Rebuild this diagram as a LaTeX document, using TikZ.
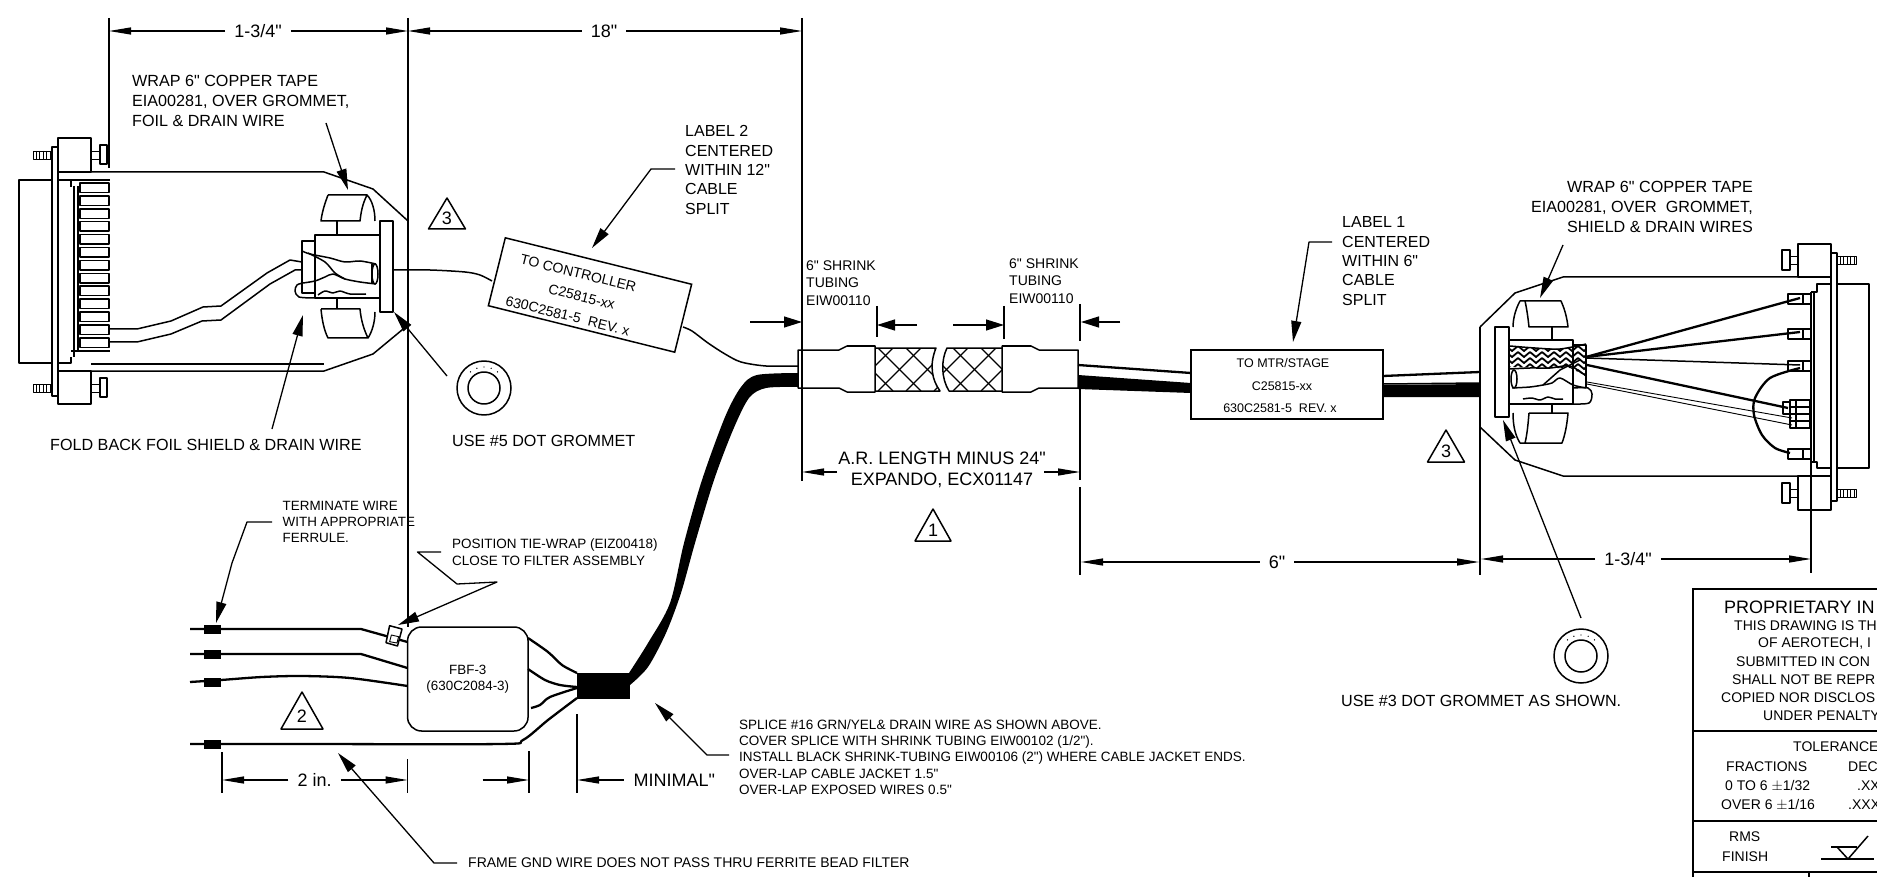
\documentclass[tikz,border=0pt]{standalone}
\usepackage{fontspec}
\setmainfont{Liberation Sans}[Ligatures=TeXOff]
\usetikzlibrary{arrows.meta}
\tikzset{
	wire/.style={line width=1.5pt, line join=round},
	fine/.style={line width=.9pt, line join=round},
	cable/.style={line width=2.3pt, line join=round},
	dima/.style={line width=1.2pt, -{Triangle[length=22pt,width=7pt]}},
	leada/.style={line width=1.3pt, line join=round, -{Triangle[length=21pt,width=10pt]}},
	smalla/.style={line width=1.3pt, -{Triangle[length=18pt,width=11pt]}},
	txt/.style={inner sep=0pt, anchor=west, align=left},
	fdraft/.style={font=\fontsize{13.4}{16.2}\selectfont},
	fmid/.style={font=\fontsize{14}{17.7}\selectfont},
	fnote/.style={font=\fontsize{16.15}{19.6}\selectfont},
	fdim/.style={font=\fontsize{18}{21}\selectfont},
	dimtext/.style={inner xsep=9pt, inner ysep=0pt, fdim},
}
\begin{document}
\begin{tikzpicture}[x=1pt, y=-1pt]
	\useasboundingbox (0,0) rectangle (1877,877);
	\clip (0,0) rectangle (1877,877);

	% witness lines
	\coordinate (wa) at (109,31);
	\coordinate (wb) at (408,31);
	\coordinate (wc) at (802,31);
	\draw[wire] (109,18) -- (109,168);
	\draw[wire] (408,18) -- (408,627);
	\draw[wire] (802,18) -- (802,481);
	\draw[wire] (1080,388) -- (1080,480);
	\draw[wire] (1080,487) -- (1080,575);
	\draw[wire] (1480,327) -- (1480,575);
	\draw[wire] (1811,292) -- (1811,573);

	% top dimensions
	\node[dimtext] (topa) at (258,31) {1-3/4"};
	\draw[dima] (topa) -- (wa);
	\draw[dima] (topa) -- (wb);
	\node[dimtext] (topb) at (604,31) {18"};
	\draw[dima] (topb) -- (wb);
	\draw[dima] (topb) -- (wc);

	% left connector
	\draw[wire] (58,138) rectangle (91,172);
	\draw[wire] (58,371) rectangle (91,404);
	\draw[wire] (58,172) -- (58,371);
	\draw[wire] (52,147) rectangle (58,396);
	\draw[wire] (19,180) rectangle (52,363);
	\draw[wire] (58,180) -- (110,180);
	\draw[wire] (58,363) -- (71,363) -- (71,357);
	\draw[wire] (71,181) -- (71,187);
	\draw[wire] (74,186) -- (74,357);
	\draw[wire] (78,186) -- (78,352);
	\draw[wire] (71,351) -- (110,351);
	\foreach[evaluate=\i as \y using 183+12.9*\i] \i in {0,...,12}{
		\draw[wire] (80,\y) rectangle (109,\y+9.5);
	}
	\foreach \y in {151,384}{
		\draw[fine] (33,\y) rectangle (52,\y+8);
		\foreach \x in {36,39.5,...,50}{
			\draw[fine] (\x,\y) -- (\x,\y+8);
		}
		\draw[fine] (91,\y) rectangle (100,\y+8);
		\draw[wire] (100,\y-6) rectangle (107,\y+13);
	}

	% left hood
	\draw[wire] (91,172) -- (324,172) -- (373,189) -- (408,221);
	\draw[wire] (91,371) -- (324,371) -- (373,354) -- (408,325);
	\draw[wire] (91,364) -- (324,364);

	% left grommet and wrap
	\draw[wire] (380,221) rectangle (393,312);
	\draw[wire] (328,195) -- (367,195) .. controls (372,200) and (375,210) .. (375,221) (367,195) .. controls (362,205) and (361,213) .. (360,221) -- (321,221) .. controls (322,212) and (325,203) .. (328,195);
	\draw[wire] (321,309) -- (360,309) .. controls (361,320) and (364,330) .. (368,338) -- (328,338) .. controls (324,330) and (322,320) .. (321,309);
	\draw[wire] (368,338) .. controls (372,332) and (375,322) .. (375,312);
	\draw[wire] (337,221) -- (337,235) (337,298) -- (337,309);
	\draw[wire] (380,235) -- (315,235) -- (315,298) -- (380,298);
	\draw[wire] (315,241) -- (302,241) -- (302,293) -- (315,293);

	% left foil and drain
	\draw[wire] plot[smooth] coordinates {(302,251) (310,254) (330,258) (345,262) (360,261) (376,264)};
	\draw[wire] plot[smooth] coordinates {(303,283) (315,281) (325,277) (333,274) (345,279) (360,282) (376,284)};
	\draw[wire] plot[smooth] coordinates {(308,253) (325,262) (335,273) (345,279)};
	\draw[wire] (375,274) ellipse[x radius=3, y radius=10];
	\draw[wire] (372,264) -- (372,284);
	\draw[wire] plot[smooth] coordinates {(318,295) (325,291) (333,293) (340,291) (350,294) (366,294)};
	\draw[wire] plot[smooth] coordinates {(303,283) (297,285) (295,291) (299,297) (315,298)};

	% left wires
	\draw[wire] (302,262) -- (290,260) -- (267,273) -- (221,306) -- (203,307) -- (171,321) -- (137,329) -- (110,329);
	\draw[wire] (302,270) -- (295,270) -- (270,284) -- (221,320) -- (202,321) -- (171,334) -- (137,342) -- (110,342);

	% left leaders
	\node[txt, fnote] (wrapleft) at (132,101) {WRAP 6" COPPER TAPE\\EIA00281, OVER GROMMET,\\FOIL \& DRAIN WIRE};
	\coordinate (wrapleftend) at (326,123);
	\coordinate (wraplefttip) at (348,190);
	\draw[leada] (wrapleftend) -- (wraplefttip);
	\node[txt, fnote] (foldnote) at (50,445) {FOLD BACK FOIL SHIELD \& DRAIN WIRE};
	\coordinate (foldend) at (272,429);
	\coordinate (foldtip) at (303,315);
	\draw[leada] (foldend) -- (foldtip);
	\coordinate (gromaend) at (447,376);
	\coordinate (gromatip) at (394,312);
	\draw[leada] (gromaend) -- (gromatip);

	% left grommet front
	\draw[wire] (484,388) circle[radius=27];
	\draw[wire] (484,388) circle[radius=16];
	\foreach \a in {-130,-110,...,-50}{
		\fill (484,388) ++(\a:21) circle[radius=.7];
	}
	\node[txt, fnote] (grommeta) at (452,441) {USE \#5 DOT GROMMET};

	% note flags
	\foreach \x/\y/\w/\h/\n/\t in {447/198/18.5/31/flaga/3, 933/509/18/32/flagb/1, 302/692/21/37/flagc/2, 1446/430/18.5/32/flagd/3}{
		\draw[wire] (\x,\y) -- (\x+\w,\y+\h) -- (\x-\w,\y+\h) -- cycle;
		\node[fdim, inner sep=0pt] (\n) at (\x,\y+.66*\h) {\t};
	}

	% label 2
	\draw[wire] plot[smooth] coordinates {(393,270) (430,270) (465,272) (480,275) (492,281)};
	\draw[wire] plot[smooth] coordinates {(683,327) (692,331) (708,343) (725,354) (741,362) (766,366) (798,366)};
	\node[draw, line width=1.5pt, fill=white, minimum width=192pt, minimum height=70pt, rotate=-14] (labeltwo) at (590,295) {};
	\node[font=\fontsize{14}{22}\selectfont, inner sep=0pt, align=center, rotate=-14] (labeltwotext) at (573,294.5) {TO CONTROLLER\\\hspace*{18pt}C25815-xx\\630C2581-5\ \ REV. x};
	\node[txt, font=\fontsize{16}{19.4}\selectfont] (labeltwonote) at (685,170) {LABEL 2\\CENTERED\\WITHIN 12"\\CABLE\\SPLIT};
	\coordinate (ltwoend) at (675,169);
	\coordinate (ltwotip) at (592,248);
	\draw[leada] (ltwoend) -- (651,169) -- (ltwotip);

	% black cable
	\fill plot[smooth] coordinates {(798,373) (757,375) (741,387) (725,417) (702,480) (684,543) (670,603) (648,643) (629,673)} -- plot[smooth] coordinates {(630,685) (648,667) (666,633) (681,593) (695,543) (714,480) (733,430) (749,398) (766,388) (798,387)} -- cycle;

	% expando mesh
	\begin{scope}
		\clip (875,348) -- (936,348) .. controls (929,365) and (932,380) .. (940,391) -- (875,391) -- cycle;
		\foreach \k in {850,878,...,950}{
			\draw[line width=1.2pt] (\k,348) -- (\k+43,391);
			\draw[line width=1.2pt] (\k+43,348) -- (\k,391);
		}
	\end{scope}
	\begin{scope}
		\clip (947,348) .. controls (941,360) and (941,378) .. (949,391) -- (1002,391) -- (1002,348) -- cycle;
		\foreach \k in {925,953,...,1010}{
			\draw[line width=1.2pt] (\k,348) -- (\k+43,391);
			\draw[line width=1.2pt] (\k+43,348) -- (\k,391);
		}
	\end{scope}
	\draw[wire] (875,348) -- (936,348) .. controls (929,365) and (932,380) .. (940,391) -- (875,391);
	\draw[wire] (1002,348) -- (947,348) .. controls (941,360) and (941,378) .. (949,391) -- (1002,391);

	% shrink tubing
	\draw[wire] (798,350) -- (839,350) -- (847,346) -- (875,346) -- (875,392) -- (847,392) -- (839,388) -- (798,388) -- cycle;
	\draw[wire] (1002,346) -- (1031,346) -- (1039,350) -- (1078,350) -- (1078,388) -- (1039,388) -- (1031,392) -- (1002,392) -- cycle;
	\node[txt, font=\fontsize{14}{17.4}\selectfont] (shrinka) at (806,283) {6" SHRINK\\TUBING\\EIW00110};
	\node[txt, font=\fontsize{14}{17.4}\selectfont] (shrinkb) at (1009,281) {6" SHRINK\\TUBING\\EIW00110};
	\draw[wire] (877,306) -- (877,337);
	\draw[wire] (1004,306) -- (1004,339);
	\draw[wire] (1080,304) -- (1080,341);
	\coordinate (shrinkwa) at (802,322);
	\coordinate (shrinkwb) at (877,325);
	\coordinate (shrinkwc) at (1004,325);
	\coordinate (shrinkwd) at (1081,322);
	\draw[smalla] (750,322) -- (shrinkwa);
	\draw[smalla] (917,325) -- (shrinkwb);
	\draw[smalla] (953,325) -- (shrinkwc);
	\draw[smalla] (1120,322) -- (shrinkwd);

	% expando dimension
	\node[fdim, inner sep=0pt, align=center] (arlength) at (942,470) {A.R. LENGTH MINUS 24"\\EXPANDO, ECX01147};
	\coordinate (arwa) at (802,472);
	\coordinate (arwb) at (1080,472);
	\draw[dima] (837,472) -- (arwa);
	\draw[dima] (1044,472) -- (arwb);

	% label 1
	\draw[cable] (1078,365) -- (1191,373);
	\draw[cable] (1383,376) -- (1480,372);
	\draw[wire] (1383,384) -- (1480,383);
	\fill (1078,375) -- (1191,383) -- (1191,393) -- (1078,389) -- cycle;
	\fill (1383,385) -- (1480,384) -- (1480,397) -- (1383,397) -- cycle;
	\node[draw, line width=1.5pt, fill=white, minimum width=192pt, minimum height=69pt] (labelone) at (1287,384.5) {};
	\node[font=\fontsize{12.5}{15}\selectfont, inner sep=0pt] (labelonea) at (1283,363) {TO MTR/STAGE};
	\node[font=\fontsize{12.5}{15}\selectfont, inner sep=0pt] (labeloneb) at (1282,386) {C25815-xx};
	\node[font=\fontsize{12.5}{15}\selectfont, inner sep=0pt] (labelonec) at (1280,408) {630C2581-5\ \ REV. x};
	\node[txt, font=\fontsize{16}{19.4}\selectfont] (labelonenote) at (1342,261) {LABEL 1\\CENTERED\\WITHIN 6"\\CABLE\\SPLIT};
	\coordinate (loneend) at (1332,242);
	\coordinate (lonetip) at (1293,342);
	\draw[leada] (loneend) -- (1309,242) -- (lonetip);

	% bottom dimensions right
	\node[dimtext] (dimsix) at (1277,562) {6"};
	\coordinate (sixa) at (1081,562);
	\coordinate (sixb) at (1479,562);
	\draw[dima] (dimsix) -- (sixa);
	\draw[dima] (dimsix) -- (sixb);
	\node[dimtext] (dimright) at (1628,559) {1-3/4"};
	\coordinate (rightw) at (1481,559);
	\coordinate (rightx) at (1811,559);
	\draw[dima] (dimright) -- (rightw);
	\draw[dima] (dimright) -- (rightx);

	% right hood
	\draw[wire] (1798,277) -- (1563,277) -- (1515,293) -- (1480,327);
	\draw[wire] (1798,476) -- (1563,476) -- (1515,460) -- (1480,427);

	% right grommet and wrap
	\draw[wire] (1495,327) rectangle (1509,417);
	\draw[wire] (1525,301) -- (1561,301) .. controls (1565,310) and (1567,318) .. (1568,327) -- (1529,327) .. controls (1528,318) and (1527,310) .. (1525,301);
	\draw[wire] (1529,413) -- (1568,413) .. controls (1567,425) and (1565,435) .. (1562,443) -- (1525,443) .. controls (1527,435) and (1528,425) .. (1529,413);
	\draw[wire] (1525,301) -- (1520,301) .. controls (1515,310) and (1513,320) .. (1513,327);
	\draw[wire] (1525,443) -- (1520,443) .. controls (1515,435) and (1513,425) .. (1513,413);
	\draw[wire] (1552,327) -- (1552,340) (1552,404) -- (1552,413);
	\draw[wire] (1509,340) -- (1573,340) -- (1573,404) -- (1509,404);
	\draw[wire] (1573,345) -- (1586,345) -- (1586,388);

	% right braid
	\begin{scope}
		\clip (1510,346) -- (1535,348) -- (1560,349) -- (1586,344) -- (1586,376) -- (1570,368) -- (1545,368) -- (1510,367) -- cycle;
		\foreach \y in {340,346,...,382}{
			\foreach \x in {1506,1518,...,1586}{
				\draw[line width=1.8pt] (\x,\y) -- (\x+6,\y+5) -- (\x+12,\y);
			}
		}
	\end{scope}
	\draw[wire] plot[smooth] coordinates {(1510,346) (1535,348) (1560,349) (1586,344)};
	\draw[wire] plot[smooth] coordinates {(1510,369) (1530,368) (1550,368) (1570,366) (1586,376)};
	\draw[wire] plot[smooth] coordinates {(1512,388) (1530,387) (1543,385) (1552,383) (1560,378) (1573,385) (1586,388)};
	\draw[wire] (1543,385) -- (1560,370) -- (1580,360);
	\draw[wire] (1514,379) ellipse[x radius=3, y radius=9];
	\draw[wire] plot[smooth] coordinates {(1523,399) (1532,398) (1540,400) (1548,397) (1555,399) (1563,399)};
	\draw[wire] plot[smooth] coordinates {(1573,388) (1588,388) (1592,394) (1589,403) (1573,404)};

	% right pin wires
	\draw[cable] (1586,357) -- (1800,298);
	\draw[cable] (1586,357) -- (1800,332);
	\draw[wire] (1586,358) -- (1800,365);
	\draw[cable] (1587,365) -- (1788,408);
	\draw[fine] (1587,382) -- (1792,418);
	\draw[fine] (1587,384) -- (1792,425);
	\draw[cable] plot[smooth] coordinates {(1800,368) (1770,378) (1755,398) (1754,415) (1762,435) (1775,448) (1790,453)};

	% right pins
	\foreach \y in {294,329,361,449}{
		\draw[wire] (1788,\y) rectangle (1803,\y+10);
		\draw[wire] (1803,\y) -- (1811,\y) (1803,\y+10) -- (1811,\y+10);
	}
	\foreach \y in {400,407,414,421}{
		\draw[wire] (1790,\y) rectangle (1810,\y+7);
	}
	\draw[wire] (1796,400) -- (1796,428);
	\draw[wire] (1783,402) rectangle (1790,414);

	% right connector
	\draw[wire] (1798,244) rectangle (1831,277);
	\draw[wire] (1798,476) rectangle (1831,510);
	\draw[wire] (1831,253) rectangle (1837,501);
	\draw[wire] (1837,284) rectangle (1869,468);
	\draw[wire] (1811,292) -- (1817,292) -- (1817,284) -- (1831,284);
	\draw[wire] (1811,462) -- (1817,462) -- (1817,468) -- (1831,468);
	\draw[wire] (1814,292) -- (1814,462);
	\foreach \y in {256,489}{
		\draw[fine] (1837,\y) rectangle (1856,\y+8);
		\foreach \x in {1840,1843.5,...,1854}{
			\draw[fine] (\x,\y) -- (\x,\y+8);
		}
		\draw[fine] (1790,\y) rectangle (1798,\y+8);
		\draw[wire] (1782,\y-6) rectangle (1790,\y+14);
	}

	% right leaders
	\node[fnote, inner sep=0pt, anchor=east, align=right] (wrapright) at (1753,207) {WRAP 6" COPPER TAPE\\EIA00281, OVER\ \ GROMMET,\\SHIELD \& DRAIN WIRES};
	\coordinate (wraprightend) at (1563,245);
	\coordinate (wraprighttip) at (1540,298);
	\draw[leada] (wraprightend) -- (wraprighttip);
	\coordinate (grombend) at (1581,618);
	\coordinate (grombtip) at (1503,420);
	\draw[leada] (grombend) -- (grombtip);

	% right grommet front
	\draw[wire] (1581,656) circle[radius=27];
	\draw[wire] (1581,656) circle[radius=16];
	\foreach \a in {-130,-110,...,-50}{
		\fill (1581,656) ++(\a:21) circle[radius=.7];
	}
	\node[txt, fnote] (grommetb) at (1341,701) {USE \#3 DOT GROMMET AS SHOWN.};

	% filter assembly
	\node[draw, line width=1.5pt, rounded corners=14pt, minimum width=120.5pt, minimum height=104pt, inner sep=0pt, align=center, fdraft] (filter) at (467.8,679) {FBF-3\\(630C2084-3)};

	% filter wires
	\foreach \y in {624.5,649.5,677.5,739.5}{
		\fill (204,\y) rectangle (221,\y+9);
	}
	\draw[cable] (190,629) -- (361,629) -- (407.5,642);
	\draw[cable] (190,654) -- (361,654) -- (407.5,668);
	\draw[cable] plot[smooth] coordinates {(190,682) (221,680) (262,677) (302,676) (350,678) (407.5,686)};
	\draw[cable] plot[smooth] coordinates {(190,744) (300,744) (500,744) (523,740) (548,720) (577,698)};
	\draw[cable] plot[smooth] coordinates {(528,638) (548,652) (562,665) (577,673)};
	\draw[cable] plot[smooth] coordinates {(528,669) (545,680) (560,685) (577,687)};
	\draw[cable] plot[smooth] coordinates {(531,708) (540,705) (550,697) (577,688)};
	\fill (577,673) rectangle (630,699);

	% tie wrap
	\draw[wire, fill=white] (389.6,625.7) -- (402,629) -- (397.5,646) -- (386,642.7) -- cycle;
	\draw[fine] (391.4,635) -- (398.6,636.7) -- (397,643) -- (389.6,641.7) -- cycle;

	% filter notes
	\node[txt, fdraft] (terminate) at (282.5,522) {TERMINATE WIRE\\WITH APPROPRIATE\\FERRULE.};
	\coordinate (terminateend) at (272,522);
	\coordinate (terminatetip) at (216,623);
	\draw[leada] (terminateend) -- (247,522) -- (232,563) -- (terminatetip);
	\node[txt, font=\fontsize{13.5}{17}\selectfont] (tiewrap) at (452,552.5) {POSITION TIE-WRAP (EIZ00418)\\CLOSE TO FILTER ASSEMBLY};
	\coordinate (tiewrapend) at (441,552);
	\coordinate (tiewraptip) at (398,625);
	\draw[leada] (tiewrapend) -- (417.5,552) -- (457,584) -- (497,582) -- (tiewraptip);

	% filter dimensions
	\draw[wire] (222,752) -- (222,793);
	\draw[wire] (407.5,759) -- (407.5,793);
	\draw[wire] (529,751) -- (529,793);
	\draw[wire] (577,714) -- (577,793);
	\node[dimtext] (twoin) at (314.6,780) {2 in.};
	\coordinate (twoa) at (222,780);
	\coordinate (twob) at (407.5,780);
	\draw[dima] (twoin) -- (twoa);
	\draw[dima] (twoin) -- (twob);
	\coordinate (mina) at (529,780);
	\coordinate (minb) at (577,780);
	\draw[dima] (482.5,780) -- (mina);
	\draw[dima] (623.5,780) -- (minb);
	\node[txt, fdim] (minimal) at (633.5,780) {MINIMAL"};

	% bottom notes
	\node[txt, font=\fontsize{14}{16}\selectfont] (frame) at (468,863) {FRAME GND WIRE DOES NOT PASS THRU FERRITE BEAD FILTER};
	\coordinate (frameend) at (457,863);
	\coordinate (frametip) at (338,753);
	\draw[leada] (frameend) -- (434,863) -- (frametip);
	\node[txt, font=\fontsize{13.5}{16.4}\selectfont] (splice) at (739,757) {SPLICE \#16 GRN/YEL\& DRAIN WIRE AS SHOWN ABOVE.\\COVER SPLICE WITH SHRINK TUBING EIW00102 (1/2").\\INSTALL BLACK SHRINK-TUBING EIW00106 (2") WHERE CABLE JACKET ENDS.\\OVER-LAP CABLE JACKET 1.5"\\OVER-LAP EXPOSED WIRES 0.5"};
	\coordinate (spliceend) at (729,755);
	\coordinate (splicetip) at (655,703);
	\draw[leada] (spliceend) -- (707,755) -- (splicetip);

	% title block
	\draw[line width=2pt] (1877,589) -- (1693,589) -- (1693,877);
	\draw[line width=2pt] (1693,731) -- (1877,731);
	\draw[line width=2pt] (1693,821) -- (1877,821);
	\draw[line width=2pt] (1693,872) -- (1877,872);
	\draw[line width=2pt] (1809,872) -- (1809,877);
	\draw[wire] (1821,859) -- (1874,859);
	\draw[wire] (1831,847) -- (1857,847);
	\draw[wire] (1837,847) -- (1848,859) -- (1868,836);
	\node[txt, fdim] (propa) at (1724,607) {PROPRIETARY IN};
	\foreach \x/\y/\t/\n in {1734/626/THIS DRAWING IS TH/propb, 1758/644/{OF AEROTECH, I}/propc, 1736/662/SUBMITTED IN CON/propd, 1732/680/SHALL NOT BE REPR/prope, 1721/698/COPIED NOR DISCLOS/propf, 1763/716/UNDER PENALTY/propg, 1793/747/TOLERANCE/tola, 1726/767/FRACTIONS/tolb, 1848/767/DEC/tolc, 1725/786/{0 TO 6 $\pm$1/32}/told, 1857/786/.XX/tole, 1721/805/{OVER 6 $\pm$1/16}/tolf, 1848/805/.XXX/tolg, 1729/837/RMS/rmsa, 1722/857/FINISH/rmsb}{
		\node[txt, fmid] (\n) at (\x,\y) {\t};
	}
\end{tikzpicture}
\end{document}
